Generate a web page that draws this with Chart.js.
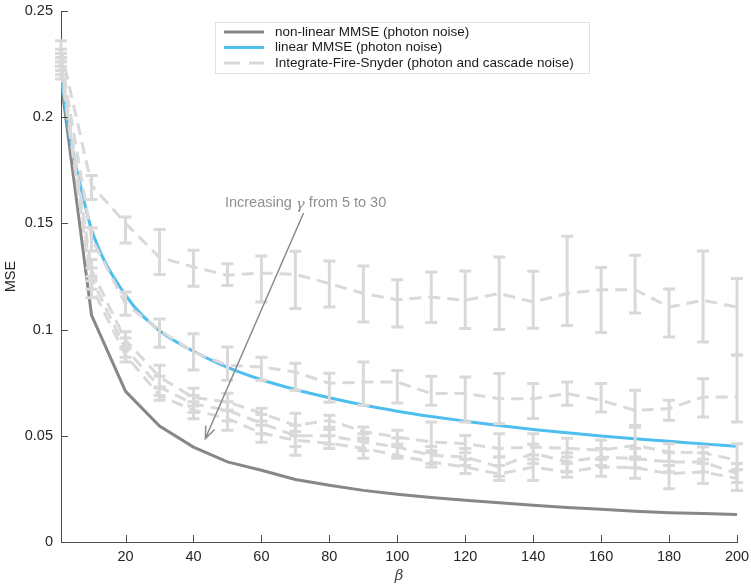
<!DOCTYPE html>
<html>
<head>
<meta charset="utf-8">
<script src="https://cdn.jsdelivr.net/npm/chart.js@4"></script>
<style>
  html, body { margin: 0; padding: 0; background: #fff; }
  canvas { display: block; }
</style>
</head>
<body>
<canvas id="mseChart" width="751" height="585"></canvas>
<script>
  // ---- data ----
  const betaVals = [1, 10, 20, 30, 40, 50, 60, 70, 80, 90, 100, 110, 120, 130, 140, 150, 160, 170, 180, 190, 200];

  const nonlinMse = [0.217, 0.1067, 0.0709, 0.0546, 0.0447, 0.0377, 0.0338, 0.0294, 0.0267, 0.0243, 0.0225, 0.0209, 0.0196, 0.0185, 0.0173, 0.0162, 0.0154, 0.0145, 0.0138, 0.0134, 0.013];

  const linBeta = [1, 3, 5, 7, 10, 20, 30, 40, 50, 60, 70, 80, 90, 100, 110, 120, 130, 140, 150, 160, 170, 180, 190, 200];
  const linMse = [0.221, 0.197, 0.180, 0.166, 0.147, 0.1162, 0.0995, 0.0898, 0.0822, 0.0764, 0.0718, 0.0679, 0.0645, 0.0616, 0.0591, 0.0569, 0.0548, 0.053, 0.0514, 0.0499, 0.0486, 0.0474, 0.0462, 0.0451];

  // Integrate-Fire-Snyder, one curve per gamma (5 .. 30)
  const ifsMeanA = [0.232, 0.168, 0.150, 0.134, 0.1295, 0.1256, 0.1266, 0.126, 0.1217, 0.117, 0.1141, 0.1153, 0.1138, 0.117, 0.113, 0.117, 0.1188, 0.1188, 0.1106, 0.1138, 0.1106];
  const ifsHiA = [0.236, 0.1726, 0.153, 0.1471, 0.1373, 0.131, 0.1347, 0.1369, 0.1323, 0.130, 0.1235, 0.1271, 0.1276, 0.1342, 0.1275, 0.144, 0.1292, 0.135, 0.1191, 0.137, 0.124];
  const ifsLoA = [0.228, 0.1612, 0.1408, 0.126, 0.1204, 0.1208, 0.113, 0.1099, 0.1106, 0.1036, 0.1012, 0.1033, 0.1005, 0.100, 0.1006, 0.1019, 0.0986, 0.1078, 0.0965, 0.0942, 0.088];

  const ifsMeanB = [0.228, 0.143, 0.1122, 0.0997, 0.0895, 0.0832, 0.0824, 0.080, 0.0747, 0.0753, 0.0753, 0.0699, 0.0699, 0.0675, 0.0675, 0.0699, 0.0667, 0.062, 0.0628, 0.0683, 0.0683];
  const ifsHiB = [0.232, 0.148, 0.1177, 0.105, 0.098, 0.0918, 0.087, 0.0841, 0.0794, 0.0847, 0.0808, 0.078, 0.0777, 0.0793, 0.0746, 0.0753, 0.0746, 0.0714, 0.0667, 0.0769, 0.088];
  const ifsLoB = [0.224, 0.137, 0.1067, 0.0917, 0.081, 0.0761, 0.0761, 0.0714, 0.0658, 0.0644, 0.0654, 0.0644, 0.0565, 0.0557, 0.0581, 0.0644, 0.0612, 0.0549, 0.0573, 0.0588, 0.0565];

  const ifsMeanC = [0.226, 0.128, 0.095, 0.0777, 0.068, 0.066, 0.0606, 0.0549, 0.0573, 0.052, 0.0494, 0.0471, 0.0463, 0.044, 0.0447, 0.0441, 0.0432, 0.0455, 0.0424, 0.042, 0.0385];
  const ifsHiC = [0.230, 0.133, 0.099, 0.0832, 0.0724, 0.070, 0.063, 0.0606, 0.0597, 0.0541, 0.0526, 0.0565, 0.0502, 0.051, 0.051, 0.0488, 0.048, 0.054, 0.0463, 0.0447, 0.0463];
  const ifsLoC = [0.222, 0.123, 0.091, 0.0725, 0.064, 0.062, 0.057, 0.050, 0.053, 0.049, 0.046, 0.043, 0.042, 0.040, 0.041, 0.040, 0.039, 0.040, 0.038, 0.039, 0.034];

  const ifsMeanD = [0.224, 0.124, 0.091, 0.073, 0.065, 0.062, 0.0559, 0.050, 0.050, 0.0471, 0.0447, 0.0408, 0.040, 0.0353, 0.0418, 0.0377, 0.040, 0.0393, 0.0377, 0.0377, 0.0322];
  const ifsHiD = [0.228, 0.129, 0.096, 0.078, 0.069, 0.066, 0.060, 0.055, 0.054, 0.051, 0.049, 0.045, 0.044, 0.040, 0.046, 0.042, 0.044, 0.044, 0.042, 0.042, 0.037];
  const ifsLoD = [0.220, 0.119, 0.087, 0.069, 0.061, 0.057, 0.051, 0.045, 0.046, 0.043, 0.040, 0.037, 0.036, 0.031, 0.037, 0.033, 0.036, 0.035, 0.033, 0.033, 0.028];

  const ifsMeanE = [0.222, 0.120, 0.088, 0.069, 0.062, 0.0582, 0.0512, 0.0479, 0.0465, 0.0441, 0.0408, 0.0377, 0.0353, 0.032, 0.0353, 0.033, 0.0353, 0.035, 0.0322, 0.033, 0.030];
  const ifsHiE = [0.226, 0.125, 0.092, 0.073, 0.066, 0.062, 0.055, 0.052, 0.050, 0.048, 0.045, 0.042, 0.039, 0.036, 0.039, 0.037, 0.039, 0.039, 0.036, 0.037, 0.034];
  const ifsLoE = [0.218, 0.115, 0.0847, 0.0667, 0.058, 0.0526, 0.047, 0.0408, 0.044, 0.0394, 0.0394, 0.0353, 0.0322, 0.029, 0.029, 0.0305, 0.031, 0.030, 0.0251, 0.0275, 0.0243];

  const xTicks = [20, 40, 60, 80, 100, 120, 140, 160, 180, 200];
  const yTicks = [0, 0.05, 0.1, 0.15, 0.2, 0.25];
  const yTickLabels = ["0", "0.05", "0.1", "0.15", "0.2", "0.25"];

  const labelNonlin = "non-linear MMSE (photon noise)";
  const labelLin = "linear MMSE (photon noise)";
  const labelIfs = "Integrate-Fire-Snyder (photon and cascade noise)";

  // annotation: text anchor and arrow tail/head in data units
  const noteText = ["Increasing ", "\u03b3", " from 5 to 30"];
  const noteAt = [73, 0.1595];
  const arrowFrom = [72.4, 0.1549];
  const arrowTo = [43.5, 0.0487];

  // ---- styles ----
  const FONT = '"Liberation Sans", Arial, Helvetica, sans-serif';
  const TEXT_COLOR = "#262626";
  const AXIS_COLOR = "#4d4d4d";
  const GRAY = "#878787";
  const BLUE = "#4dbeee";
  const LIGHT = "#d9d9d9";

  function toPoints(xs, ys) {
    return xs.map((x, i) => ({ x: x, y: ys[i] }));
  }

  function ifsDataset(mean, lo, hi) {
    return {
      label: labelIfs,
      data: toPoints(betaVals, mean),
      errLo: lo,
      errHi: hi,
      borderColor: LIGHT,
      borderWidth: 3,
      borderDash: [12, 7],
      pointRadius: 0,
      tension: 0,
      order: 0,
    };
  }

  const errorBarPlugin = {
    id: "errorBars",
    afterDatasetsDraw(chart) {
      const ctx = chart.ctx;
      const xs = chart.scales.x;
      const ys = chart.scales.y;
      chart.data.datasets.forEach((ds) => {
        if (!ds.errLo) return;
        ctx.save();
        ctx.strokeStyle = ds.borderColor;
        ctx.lineWidth = 3;
        ctx.beginPath();
        ds.data.forEach((pt, j) => {
          const px = xs.getPixelForValue(pt.x);
          const top = ys.getPixelForValue(ds.errHi[j]);
          const bot = ys.getPixelForValue(ds.errLo[j]);
          ctx.moveTo(px, top);
          ctx.lineTo(px, bot);
          ctx.moveTo(px - 6, top);
          ctx.lineTo(px + 6, top);
          ctx.moveTo(px - 6, bot);
          ctx.lineTo(px + 6, bot);
        });
        ctx.stroke();
        ctx.restore();
      });
    },
  };

  const decorPlugin = {
    id: "decor",
    afterDraw(chart) {
      const ctx = chart.ctx;
      const a = chart.chartArea;
      const xs = chart.scales.x;
      const ys = chart.scales.y;

      // inward tick marks
      ctx.save();
      ctx.strokeStyle = AXIS_COLOR;
      ctx.lineWidth = 1;
      ctx.beginPath();
      xTicks.forEach((v) => {
        const p = Math.round(xs.getPixelForValue(v)) + 0.5;
        ctx.moveTo(p, a.bottom);
        ctx.lineTo(p, a.bottom - 7);
      });
      yTicks.forEach((v) => {
        const p = Math.round(ys.getPixelForValue(v)) + 0.5;
        ctx.moveTo(a.left, p);
        ctx.lineTo(a.left + 7, p);
      });
      ctx.stroke();

      // annotation arrow
      const x0 = xs.getPixelForValue(arrowFrom[0]);
      const y0 = ys.getPixelForValue(arrowFrom[1]);
      const x1 = xs.getPixelForValue(arrowTo[0]);
      const y1 = ys.getPixelForValue(arrowTo[1]);
      const ang = Math.atan2(y1 - y0, x1 - x0);
      ctx.strokeStyle = "#8a8a8a";
      ctx.lineWidth = 1.5;
      ctx.beginPath();
      ctx.moveTo(x0, y0);
      ctx.lineTo(x1, y1);
      ctx.moveTo(x1 - 13 * Math.cos(ang - 0.38), y1 - 13 * Math.sin(ang - 0.38));
      ctx.lineTo(x1, y1);
      ctx.lineTo(x1 - 13 * Math.cos(ang + 0.38), y1 - 13 * Math.sin(ang + 0.38));
      ctx.stroke();

      // annotation text (gamma in italics)
      const fonts = ["14.5px " + FONT, "italic 15px 'DejaVu Serif', serif", "14.5px " + FONT];
      const widths = noteText.map((t, i) => {
        ctx.font = fonts[i];
        return ctx.measureText(t).width;
      });
      const total = widths.reduce((s, w) => s + w, 0);
      let tx = xs.getPixelForValue(noteAt[0]) - total / 2;
      const ty = ys.getPixelForValue(noteAt[1]);
      ctx.fillStyle = "#8f8f8f";
      ctx.textBaseline = "middle";
      noteText.forEach((t, i) => {
        ctx.font = fonts[i];
        ctx.fillText(t, tx, ty + (i === 1 ? 2 : 0));
        tx += widths[i];
      });

      // legend box
      const entries = [];
      chart.data.datasets.forEach((ds) => {
        if (!entries.some((e) => e.label === ds.label)) entries.push(ds);
      });
      const order = [labelNonlin, labelLin, labelIfs];
      entries.sort((p, q) => order.indexOf(p.label) - order.indexOf(q.label));
      const bx = 215, by = 22, bw = 374, bh = 51;
      ctx.fillStyle = "#ffffff";
      ctx.fillRect(bx, by, bw, bh);
      ctx.strokeStyle = "#e3e3e3";
      ctx.lineWidth = 1;
      ctx.strokeRect(bx + 0.5, by + 0.5, bw, bh);
      ctx.font = "13.5px " + FONT;
      ctx.textBaseline = "middle";
      entries.forEach((ds, i) => {
        const ry = by + 10 + i * 15.5;
        ctx.strokeStyle = ds.borderColor;
        ctx.lineWidth = 3;
        ctx.setLineDash(ds.borderDash ? [16, 9] : []);
        ctx.beginPath();
        ctx.moveTo(224, ry);
        ctx.lineTo(264, ry);
        ctx.stroke();
        ctx.setLineDash([]);
        ctx.fillStyle = "#1a1a1a";
        ctx.fillText(ds.label, 275, ry);
      });
      ctx.restore();
    },
  };

  new Chart(document.getElementById("mseChart"), {
    type: "line",
    data: {
      datasets: [
        {
          label: labelNonlin,
          data: toPoints(betaVals, nonlinMse),
          borderColor: GRAY,
          borderWidth: 3,
          pointRadius: 0,
          tension: 0,
          order: 2,
        },
        {
          label: labelLin,
          data: toPoints(linBeta, linMse),
          borderColor: BLUE,
          borderWidth: 3,
          pointRadius: 0,
          cubicInterpolationMode: "monotone",
          order: 1,
        },
        ifsDataset(ifsMeanA, ifsLoA, ifsHiA),
        ifsDataset(ifsMeanB, ifsLoB, ifsHiB),
        ifsDataset(ifsMeanC, ifsLoC, ifsHiC),
        ifsDataset(ifsMeanD, ifsLoD, ifsHiD),
        ifsDataset(ifsMeanE, ifsLoE, ifsHiE),
      ],
    },
    options: {
      responsive: false,
      animation: false,
      devicePixelRatio: 1,
      layout: { padding: { left: 0, right: 14, top: 11, bottom: 0 } },
      plugins: {
        legend: { display: false },
        tooltip: { enabled: false },
      },
      scales: {
        x: {
          type: "linear",
          min: 1,
          max: 200,
          afterFit: (s) => { s.height = 43; s.paddingLeft = 0; s.paddingRight = 0; },
          afterBuildTicks: (s) => { s.ticks = xTicks.map((v) => ({ value: v })); },
          grid: { display: false, drawTicks: false, tickLength: 0 },
          border: { display: true, color: AXIS_COLOR, width: 1 },
          ticks: {
            autoSkip: false,
            maxRotation: 0,
            padding: 6,
            color: TEXT_COLOR,
            font: { family: FONT, size: 14.5 },
            callback: (v) => String(v),
          },
          title: {
            display: true,
            text: "\u03b2",
            color: "#404040",
            font: { family: "'DejaVu Serif', serif", size: 15, style: "italic" },
            padding: { top: 0, bottom: 0 },
          },
        },
        y: {
          min: 0,
          max: 0.25,
          afterFit: (s) => { s.width = 61; s.paddingTop = 0; s.paddingBottom = 0; },
          afterBuildTicks: (s) => { s.ticks = yTicks.map((v) => ({ value: v })); },
          grid: { display: false, drawTicks: false, tickLength: 0 },
          border: { display: true, color: AXIS_COLOR, width: 1 },
          ticks: {
            padding: 8,
            color: TEXT_COLOR,
            font: { family: FONT, size: 14.5 },
            callback: (v) => yTickLabels[yTicks.indexOf(v)],
          },
          title: {
            display: true,
            text: "MSE",
            color: TEXT_COLOR,
            font: { family: FONT, size: 14.5 },
            padding: { top: 2, bottom: 0 },
          },
        },
      },
    },
    plugins: [errorBarPlugin, decorPlugin],
  });
</script>
</body>
</html>
